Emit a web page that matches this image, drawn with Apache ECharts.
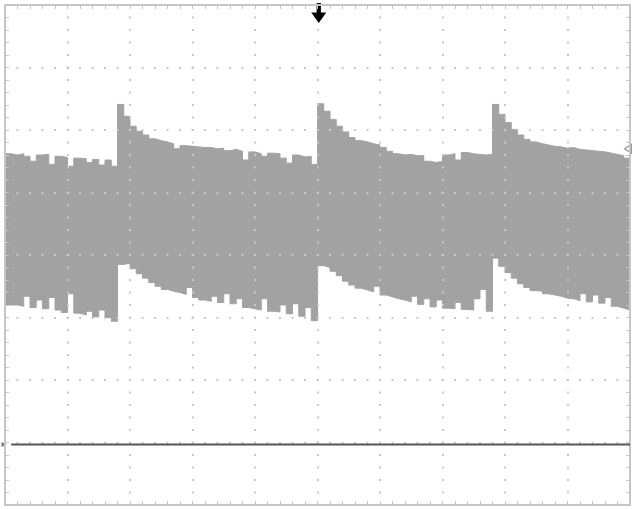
<!DOCTYPE html>
<html>
<head>
<meta charset="utf-8">
<script src="https://cdn.jsdelivr.net/npm/echarts@6/dist/echarts.min.js"></script>
<style>html,body{margin:0;padding:0;background:#fff;}#c{width:634px;height:509px;}</style>
</head>
<body>
<div id="c"></div>
<script>
// time axis in divisions (10 div), sampled every 0.1 div
const timeStart = 0, timeStep = 0.1;
// upper envelope of the trace (vertical divisions, 0 = screen centre)
const upperEnv = [1.62,1.60,1.62,1.58,1.50,1.60,1.61,1.45,1.58,1.56,
  1.42,1.55,1.54,1.48,1.53,1.44,1.52,1.42,2.41,2.22,
  2.06,1.98,1.92,1.86,1.83,1.81,1.78,1.70,1.75,1.74,
  1.73,1.72,1.72,1.70,1.71,1.67,1.69,1.66,1.52,1.65,
  1.62,1.58,1.63,1.62,1.55,1.47,1.60,1.57,1.58,1.45,
  2.42,2.30,2.17,2.06,1.97,1.88,1.83,1.81,1.78,1.76,
  1.72,1.66,1.62,1.60,1.61,1.59,1.59,1.50,1.48,1.50,
  1.60,1.62,1.52,1.64,1.62,1.61,1.60,1.61,2.41,2.25,
  2.12,2.01,1.92,1.85,1.81,1.78,1.76,1.74,1.73,1.71,
  1.72,1.69,1.68,1.67,1.66,1.65,1.63,1.61,1.59,1.55,1.52];
// lower envelope of the trace
const lowerEnv = [-0.80,-0.80,-0.82,-0.66,-0.84,-0.72,-0.86,-0.68,-0.88,-0.92,
  -0.62,-0.93,-0.96,-0.90,-0.99,-0.88,-1.00,-1.06,-0.15,-0.13,
  -0.22,-0.30,-0.37,-0.44,-0.50,-0.55,-0.58,-0.60,-0.63,-0.52,
  -0.68,-0.72,-0.74,-0.66,-0.76,-0.62,-0.78,-0.70,-0.84,-0.86,
  -0.88,-0.70,-0.90,-0.91,-0.80,-0.94,-0.78,-0.98,-0.84,-1.05,
  -0.17,-0.20,-0.26,-0.33,-0.42,-0.48,-0.53,-0.56,-0.59,-0.50,
  -0.64,-0.67,-0.70,-0.72,-0.75,-0.66,-0.79,-0.70,-0.83,-0.72,
  -0.85,-0.86,-0.76,-0.87,-0.88,-0.70,-0.55,-0.90,-0.05,-0.18,
  -0.28,-0.37,-0.46,-0.52,-0.57,-0.58,-0.62,-0.64,-0.66,-0.69,
  -0.70,-0.73,-0.62,-0.75,-0.64,-0.77,-0.68,-0.82,-0.85,-0.88,-0.93];
// graticule division lines
const gridTimes = [1, 2, 3, 4, 5, 6, 7, 8, 9];
const gridLevels = [-3, -2, -1, 0, 1, 2, 3];
// ground reference level of channel 1
const groundLevel = -3.03;
const triggerTime = 5.02;
const triggerLevel = 1.70;

const toPairs = arr => arr.map((v, i) => [+(timeStart + i * timeStep).toFixed(2), v]);

const chart = echarts.init(document.getElementById('c'), null, {renderer: 'canvas'});
const borderColor = '#c6c6c6';
const dotColor = '#c8c8c8';
const commonAxis = {
  type: 'value',
  zlevel: 1,
  z: 5,
  axisLine: {show: true, onZero: false, lineStyle: {color: borderColor, width: 2}},
  axisTick: {show: true, inside: true, length: 4, lineStyle: {color: borderColor, width: 1}},
  minorTick: {show: true, splitNumber: 5, length: 4, lineStyle: {color: borderColor, width: 1}},
  axisLabel: {show: false},
  splitLine: {show: false}
};
const dotStyle = {color: dotColor, width: 2, type: [2, 10.5], dashOffset: 1};

chart.setOption({
  animation: false,
  backgroundColor: '#ffffff',
  grid: {left: 5, top: 5, right: 4, bottom: 4, containLabel: false},
  xAxis: [
    Object.assign({}, commonAxis, {position: 'bottom', min: 0, max: 10, interval: 1}),
    Object.assign({}, commonAxis, {position: 'top', min: 0, max: 10, interval: 1})
  ],
  yAxis: [
    Object.assign({}, commonAxis, {position: 'left', min: -4, max: 4, interval: 1}),
    Object.assign({}, commonAxis, {position: 'right', min: -4, max: 4, interval: 1})
  ],
  series: [
    {
      type: 'line', data: toPairs(upperEnv), step: 'end', showSymbol: false,
      lineStyle: {color: '#a2a2a2', width: 1},
      areaStyle: {color: '#a2a2a2', opacity: 1, origin: 'start'}
    },
    {
      type: 'line', data: toPairs(lowerEnv), step: 'end', showSymbol: false,
      lineStyle: {color: '#a2a2a2', width: 1},
      areaStyle: {color: '#ffffff', opacity: 1, origin: 'start'}
    },
    {
      type: 'line', data: [], zlevel: 1, z: 4, silent: true,
      markLine: {
        silent: true, symbol: ['none', 'none'], label: {show: false},
        lineStyle: dotStyle, emphasis: {disabled: true},
        data: gridTimes.map(t => ({xAxis: t})).concat(gridLevels.map(v => ({yAxis: v})))
      }
    },
    {
      type: 'line', data: [[0.1, groundLevel], [10, groundLevel]], showSymbol: false,
      lineStyle: {color: '#555555', width: 2}, zlevel: 1, z: 10,
      markPoint: {
        silent: true,
        label: {show: false},
        data: [
          {coord: [triggerTime, 4],
           symbol: 'path://M5,0 L9,0 L9,9 L14,9 L7,19 L0,9 L5,9 Z',
           symbolSize: [15, 20], symbolOffset: [0, 8],
           itemStyle: {color: '#000', borderWidth: 0}},
          {coord: [10, triggerLevel], symbol: 'triangle', symbolRotate: 90,
           symbolSize: [9, 7], symbolOffset: [-2, 0],
           itemStyle: {color: '#fff', borderColor: '#888', borderWidth: 1}},
          {coord: [0, groundLevel], symbol: 'triangle', symbolRotate: -90,
           symbolSize: [5, 5], symbolOffset: [-1, 0],
           itemStyle: {color: '#777', borderWidth: 0}}
        ]
      }
    }
  ]
});
</script>
</body>
</html>
